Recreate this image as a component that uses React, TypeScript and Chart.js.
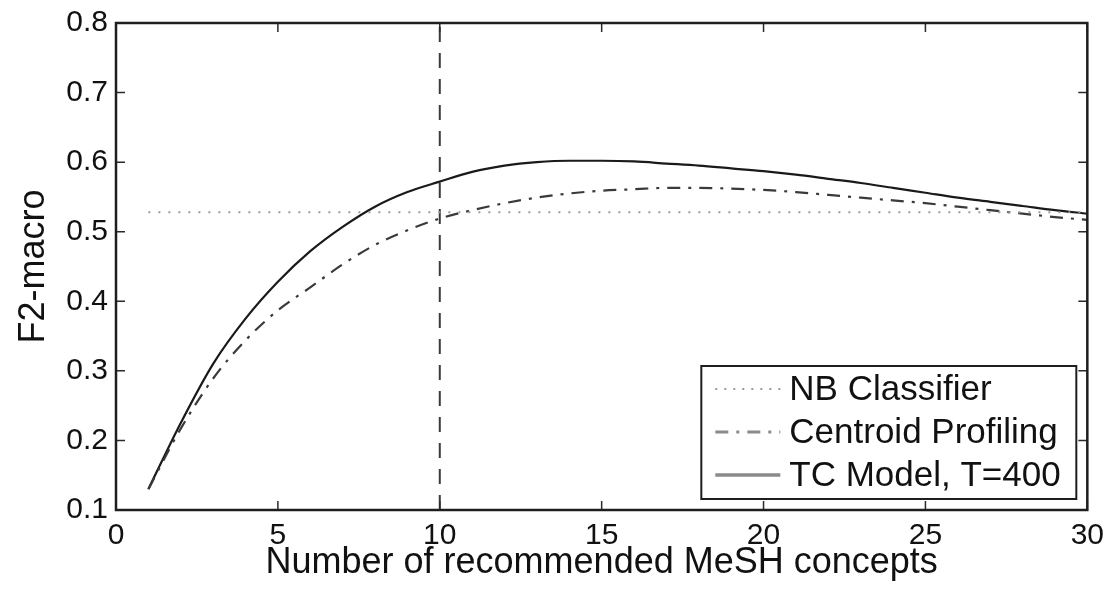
import React, { useEffect, useRef } from 'react';
import { Chart, registerables } from 'chart.js';

Chart.register(...registerables);

// ---- data ----
const xValues = [1, 2, 3, 4, 5, 6, 7, 8, 9, 10, 11, 12, 13, 14, 15, 16, 17, 18, 19, 20, 21, 22, 23, 24, 25, 26, 27, 28, 29, 30];
const tcModel = [0.13, 0.225, 0.31, 0.375, 0.428, 0.472, 0.507, 0.536, 0.557, 0.572, 0.586, 0.595, 0.6, 0.602, 0.602, 0.601, 0.598, 0.595, 0.591, 0.587, 0.582, 0.576, 0.57, 0.563, 0.556, 0.549, 0.543, 0.537, 0.531, 0.526];
const centroid = [0.13, 0.217, 0.289, 0.344, 0.387, 0.42, 0.453, 0.481, 0.502, 0.519, 0.531, 0.541, 0.549, 0.555, 0.559, 0.561, 0.563, 0.563, 0.562, 0.56, 0.557, 0.553, 0.549, 0.545, 0.541, 0.536, 0.531, 0.526, 0.521, 0.517];
const nbX = [1, 30];
const nbValues = [0.528, 0.528];
const cutoffX = [10, 10];
const cutoffY = [0.1, 0.8];
const xTicks = [0, 5, 10, 15, 20, 25, 30];
const yTicks = [0.1, 0.2, 0.3, 0.4, 0.5, 0.6, 0.7, 0.8];

const labels = ['NB Classifier', 'Centroid Profiling', 'TC Model, T=400'];
const xTitle = 'Number of recommended MeSH concepts';
const yTitle = 'F2-macro';

const FONT = '"Liberation Sans", Arial, Helvetica, sans-serif';

const framePlugin = {
  id: 'matlabFrame',
  afterDatasetsDraw(chart: any) {
    const { ctx, chartArea: a, scales } = chart;
    ctx.save();
    ctx.strokeStyle = '#2a2a2a';
    ctx.lineWidth = 1.5;
    const tl = 9;
    ctx.beginPath();
    for (const v of xTicks) {
      const px = scales.x.getPixelForValue(v);
      ctx.moveTo(px, a.bottom);
      ctx.lineTo(px, a.bottom - tl);
      ctx.moveTo(px, a.top);
      ctx.lineTo(px, a.top + tl);
    }
    for (const v of yTicks) {
      const py = scales.y.getPixelForValue(v);
      ctx.moveTo(a.left, py);
      ctx.lineTo(a.left + tl, py);
      ctx.moveTo(a.right, py);
      ctx.lineTo(a.right - tl, py);
    }
    ctx.stroke();
    ctx.lineWidth = 2.5;
    ctx.strokeStyle = '#1e1e1e';
    ctx.strokeRect(a.left, a.top, a.right - a.left, a.bottom - a.top);
    ctx.restore();
  },
};

const legendPlugin = {
  id: 'boxLegend',
  afterDraw(chart: any) {
    const { ctx, chartArea: a } = chart;
    const right = a.right - 11;
    const bottom = a.bottom - 11;
    const left = right - 375;
    const top = bottom - 133;
    ctx.save();
    ctx.fillStyle = '#ffffff';
    ctx.fillRect(left, top, right - left, bottom - top);
    ctx.lineWidth = 2;
    ctx.strokeStyle = '#1e1e1e';
    ctx.strokeRect(left, top, right - left, bottom - top);
    const entries = chart.data.datasets.filter((d: any) => !d.hideInLegend);
    entries.forEach((d: any, i: number) => {
      const cy = top + 23 + i * 43;
      ctx.beginPath();
      ctx.setLineDash(d.legendDash || []);
      ctx.strokeStyle = d.legendColor;
      ctx.lineWidth = d.legendWidth;
      ctx.moveTo(left + 14, cy);
      ctx.lineTo(left + 79, cy);
      ctx.stroke();
      ctx.setLineDash([]);
      ctx.fillStyle = '#111111';
      ctx.font = `35px ${FONT}`;
      ctx.textBaseline = 'middle';
      ctx.textAlign = 'left';
      ctx.fillText(d.label, left + 88, cy + 1);
    });
    ctx.restore();
  },
};

export default function App() {
  const ref = useRef<HTMLCanvasElement>(null);
  useEffect(() => {
    if (!ref.current) return;
    const chart = new Chart(ref.current, {
      type: 'line',
      data: {
        datasets: [
          {
            label: labels[0],
            data: nbX.map((x, i) => ({ x, y: nbValues[i] })),
            borderColor: '#9a9a9a',
            borderWidth: 2,
            borderDash: [2, 8],
            pointRadius: 0,
            legendColor: '#9a9a9a',
            legendWidth: 2,
            legendDash: [2, 7],
          } as any,
          {
            label: labels[1],
            data: xValues.map((x, i) => ({ x, y: centroid[i] })),
            borderColor: '#3a3a3a',
            borderWidth: 2.2,
            borderDash: [13, 8, 3, 8],
            pointRadius: 0,
            cubicInterpolationMode: 'monotone',
            legendColor: '#8a8a8a',
            legendWidth: 3,
            legendDash: [13, 8, 3, 8],
          } as any,
          {
            label: labels[2],
            data: xValues.map((x, i) => ({ x, y: tcModel[i] })),
            borderColor: '#1a1a1a',
            borderWidth: 2.2,
            pointRadius: 0,
            cubicInterpolationMode: 'monotone',
            legendColor: '#8a8a8a',
            legendWidth: 3.5,
            legendDash: [],
          } as any,
          {
            label: 'cutoff',
            data: cutoffX.map((x, i) => ({ x, y: cutoffY[i] })),
            borderColor: '#3a3a3a',
            borderWidth: 2,
            borderDash: [15, 11],
            pointRadius: 0,
            hideInLegend: true,
          } as any,
        ],
      },
      options: {
        responsive: false,
        animation: false,
        devicePixelRatio: 1,
        layout: { padding: { top: 22, right: 21, left: 0, bottom: 0 } },
        plugins: { legend: { display: false }, tooltip: { enabled: false } },
        scales: {
          x: {
            type: 'linear',
            min: 0,
            max: 30,
            afterBuildTicks: (s: any) => {
              s.ticks = xTicks.map((v) => ({ value: v }));
            },
            afterFit: (s: any) => {
              s.height = 82;
            },
            grid: { display: false, drawTicks: false },
            border: { display: false },
            ticks: {
              autoSkip: false,
              maxRotation: 0,
              padding: 11,
              color: '#111',
              font: { family: FONT, size: 30, lineHeight: 1 },
              callback: (v: any) => String(v),
            },
            title: {
              display: true,
              text: xTitle,
              color: '#111',
              font: { family: FONT, size: 36, lineHeight: 1 },
              padding: { top: 0, bottom: 11 },
            },
          },
          y: {
            type: 'linear',
            min: 0.1,
            max: 0.8,
            afterBuildTicks: (s: any) => {
              s.ticks = yTicks.map((v) => ({ value: v }));
            },
            afterFit: (s: any) => {
              s.width = 116;
            },
            grid: { display: false, drawTicks: false },
            border: { display: false },
            ticks: {
              autoSkip: false,
              padding: 8,
              color: '#111',
              font: { family: FONT, size: 30, lineHeight: 1 },
              callback: (v: any) => Number(v).toFixed(1),
            },
            title: {
              display: true,
              text: yTitle,
              color: '#111',
              font: { family: FONT, size: 36, lineHeight: 1 },
              padding: { top: 16, bottom: 0 },
            },
          },
        },
      },
      plugins: [framePlugin, legendPlugin],
    });
    return () => chart.destroy();
  }, []);
  return (
    <div style={{ position: 'absolute', left: 0, top: 0, width: 1115, height: 592, background: '#fff' }}>
      <canvas ref={ref} width={1115} height={592} />
    </div>
  );
}
